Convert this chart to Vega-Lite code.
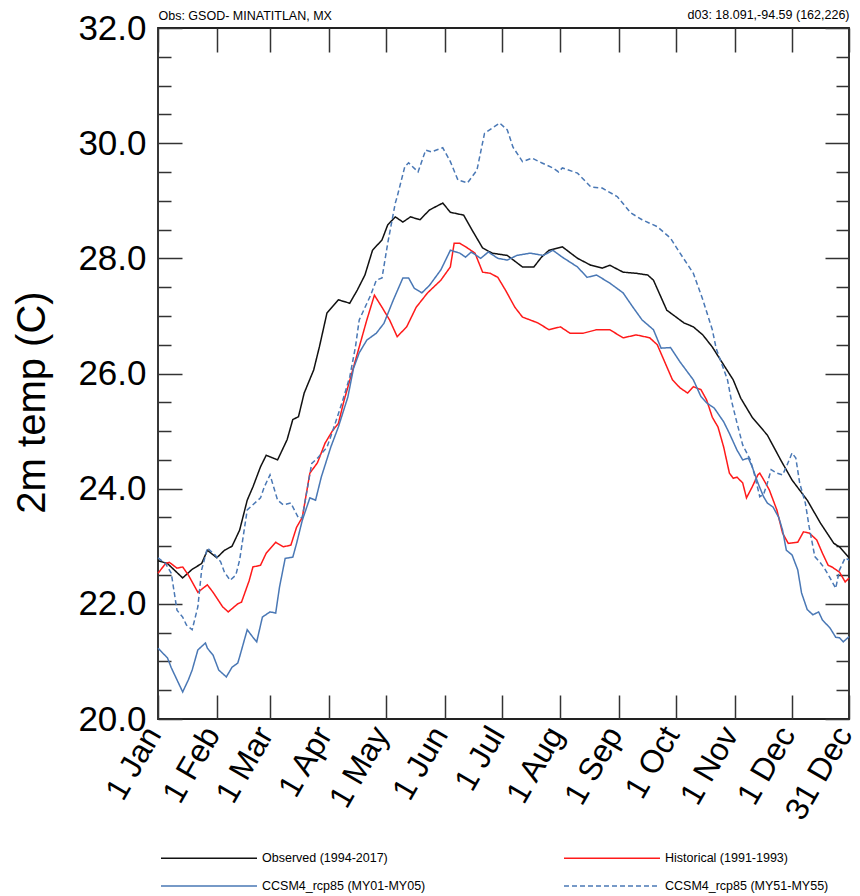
{
  "$schema": "https://vega.github.io/schema/vega-lite/v6.json",
  "width": 691,
  "height": 691,
  "autosize": {"type": "none"},
  "padding": {"left": 158, "top": 28, "right": 11, "bottom": 177},
  "background": "white",
  "config": {
    "view": {"stroke": "#222222", "strokeWidth": 1.8},
    "font": "Liberation Sans"
  },
  "data": {
    "values": [
      {"s":"obs","d":1,"t":22.75},{"s":"obs","d":6,"t":22.7},{"s":"obs","d":14,"t":22.45},{"s":"obs","d":19,"t":22.6},{"s":"obs","d":24,"t":22.7},{"s":"obs","d":27,"t":22.93},{"s":"obs","d":32,"t":22.8},{"s":"obs","d":36,"t":22.93},{"s":"obs","d":40,"t":23.0},{"s":"obs","d":44,"t":23.28},{"s":"obs","d":48,"t":23.8},{"s":"obs","d":51,"t":24.03},{"s":"obs","d":55,"t":24.38},{"s":"obs","d":58,"t":24.58},{"s":"obs","d":64,"t":24.5},{"s":"obs","d":69,"t":24.85},{"s":"obs","d":72,"t":25.2},{"s":"obs","d":75,"t":25.25},{"s":"obs","d":78,"t":25.66},{"s":"obs","d":83,"t":26.06},{"s":"obs","d":86,"t":26.46},{"s":"obs","d":90,"t":27.05},{"s":"obs","d":96,"t":27.28},{"s":"obs","d":102,"t":27.22},{"s":"obs","d":106,"t":27.45},{"s":"obs","d":110,"t":27.71},{"s":"obs","d":114,"t":28.14},{"s":"obs","d":119,"t":28.32},{"s":"obs","d":122,"t":28.58},{"s":"obs","d":126,"t":28.72},{"s":"obs","d":130,"t":28.63},{"s":"obs","d":134,"t":28.72},{"s":"obs","d":139,"t":28.67},{"s":"obs","d":144,"t":28.84},{"s":"obs","d":151,"t":28.96},{"s":"obs","d":155,"t":28.8},{"s":"obs","d":162,"t":28.75},{"s":"obs","d":167,"t":28.46},{"s":"obs","d":172,"t":28.18},{"s":"obs","d":177,"t":28.09},{"s":"obs","d":185,"t":28.05},{"s":"obs","d":193,"t":27.85},{"s":"obs","d":199,"t":27.85},{"s":"obs","d":203,"t":28.02},{"s":"obs","d":207,"t":28.14},{"s":"obs","d":214,"t":28.2},{"s":"obs","d":222,"t":28.0},{"s":"obs","d":229,"t":27.88},{"s":"obs","d":235,"t":27.83},{"s":"obs","d":239,"t":27.88},{"s":"obs","d":246,"t":27.76},{"s":"obs","d":253,"t":27.74},{"s":"obs","d":259,"t":27.71},{"s":"obs","d":262,"t":27.62},{"s":"obs","d":269,"t":27.1},{"s":"obs","d":278,"t":26.88},{"s":"obs","d":283,"t":26.81},{"s":"obs","d":288,"t":26.67},{"s":"obs","d":293,"t":26.46},{"s":"obs","d":298,"t":26.2},{"s":"obs","d":304,"t":25.89},{"s":"obs","d":308,"t":25.57},{"s":"obs","d":314,"t":25.24},{"s":"obs","d":322,"t":24.93},{"s":"obs","d":329,"t":24.5},{"s":"obs","d":335,"t":24.15},{"s":"obs","d":343,"t":23.8},{"s":"obs","d":350,"t":23.4},{"s":"obs","d":357,"t":23.05},{"s":"obs","d":360,"t":22.99},{"s":"obs","d":365,"t":22.8},

      {"s":"hist","d":1,"t":22.53},{"s":"hist","d":5,"t":22.7},{"s":"hist","d":7,"t":22.72},{"s":"hist","d":11,"t":22.62},{"s":"hist","d":14,"t":22.64},{"s":"hist","d":17,"t":22.5},{"s":"hist","d":22,"t":22.2},{"s":"hist","d":27,"t":22.33},{"s":"hist","d":30,"t":22.2},{"s":"hist","d":35,"t":21.95},{"s":"hist","d":38,"t":21.86},{"s":"hist","d":43,"t":22.0},{"s":"hist","d":45,"t":22.03},{"s":"hist","d":49,"t":22.4},{"s":"hist","d":51,"t":22.64},{"s":"hist","d":55,"t":22.67},{"s":"hist","d":58,"t":22.88},{"s":"hist","d":63,"t":23.07},{"s":"hist","d":67,"t":22.99},{"s":"hist","d":71,"t":23.02},{"s":"hist","d":74,"t":23.33},{"s":"hist","d":77,"t":23.5},{"s":"hist","d":81,"t":24.27},{"s":"hist","d":85,"t":24.45},{"s":"hist","d":89,"t":24.79},{"s":"hist","d":93,"t":25.01},{"s":"hist","d":96,"t":25.13},{"s":"hist","d":99,"t":25.53},{"s":"hist","d":104,"t":26.11},{"s":"hist","d":107,"t":26.46},{"s":"hist","d":111,"t":26.93},{"s":"hist","d":115,"t":27.36},{"s":"hist","d":119,"t":27.15},{"s":"hist","d":123,"t":26.93},{"s":"hist","d":127,"t":26.64},{"s":"hist","d":132,"t":26.81},{"s":"hist","d":137,"t":27.15},{"s":"hist","d":143,"t":27.4},{"s":"hist","d":150,"t":27.62},{"s":"hist","d":155,"t":27.85},{"s":"hist","d":157,"t":28.26},{"s":"hist","d":160,"t":28.26},{"s":"hist","d":164,"t":28.18},{"s":"hist","d":168,"t":28.09},{"s":"hist","d":172,"t":27.76},{"s":"hist","d":176,"t":27.74},{"s":"hist","d":180,"t":27.67},{"s":"hist","d":184,"t":27.45},{"s":"hist","d":189,"t":27.15},{"s":"hist","d":193,"t":26.98},{"s":"hist","d":201,"t":26.88},{"s":"hist","d":207,"t":26.76},{"s":"hist","d":213,"t":26.81},{"s":"hist","d":218,"t":26.7},{"s":"hist","d":225,"t":26.7},{"s":"hist","d":232,"t":26.76},{"s":"hist","d":239,"t":26.76},{"s":"hist","d":246,"t":26.62},{"s":"hist","d":253,"t":26.67},{"s":"hist","d":260,"t":26.62},{"s":"hist","d":264,"t":26.5},{"s":"hist","d":272,"t":25.89},{"s":"hist","d":276,"t":25.75},{"s":"hist","d":280,"t":25.66},{"s":"hist","d":283,"t":25.77},{"s":"hist","d":287,"t":25.72},{"s":"hist","d":290,"t":25.54},{"s":"hist","d":293,"t":25.24},{"s":"hist","d":296,"t":25.07},{"s":"hist","d":299,"t":24.72},{"s":"hist","d":302,"t":24.27},{"s":"hist","d":304,"t":24.18},{"s":"hist","d":306,"t":24.2},{"s":"hist","d":309,"t":24.1},{"s":"hist","d":311,"t":23.84},{"s":"hist","d":314,"t":24.03},{"s":"hist","d":317,"t":24.24},{"s":"hist","d":318,"t":24.27},{"s":"hist","d":321,"t":24.1},{"s":"hist","d":323,"t":23.98},{"s":"hist","d":327,"t":23.63},{"s":"hist","d":330,"t":23.23},{"s":"hist","d":333,"t":23.05},{"s":"hist","d":338,"t":23.07},{"s":"hist","d":341,"t":23.25},{"s":"hist","d":344,"t":23.23},{"s":"hist","d":348,"t":23.11},{"s":"hist","d":351,"t":22.88},{"s":"hist","d":354,"t":22.67},{"s":"hist","d":356,"t":22.64},{"s":"hist","d":360,"t":22.55},{"s":"hist","d":363,"t":22.38},{"s":"hist","d":365,"t":22.45},

      {"s":"my01","d":1,"t":21.23},{"s":"my01","d":6,"t":21.06},{"s":"my01","d":8,"t":20.89},{"s":"my01","d":11,"t":20.68},{"s":"my01","d":14,"t":20.47},{"s":"my01","d":17,"t":20.68},{"s":"my01","d":19,"t":20.85},{"s":"my01","d":22,"t":21.2},{"s":"my01","d":26,"t":21.32},{"s":"my01","d":27,"t":21.23},{"s":"my01","d":30,"t":21.11},{"s":"my01","d":33,"t":20.85},{"s":"my01","d":37,"t":20.73},{"s":"my01","d":40,"t":20.9},{"s":"my01","d":43,"t":20.97},{"s":"my01","d":44,"t":21.08},{"s":"my01","d":48,"t":21.55},{"s":"my01","d":51,"t":21.42},{"s":"my01","d":53,"t":21.34},{"s":"my01","d":56,"t":21.77},{"s":"my01","d":60,"t":21.86},{"s":"my01","d":63,"t":21.84},{"s":"my01","d":65,"t":22.29},{"s":"my01","d":68,"t":22.79},{"s":"my01","d":72,"t":22.81},{"s":"my01","d":74,"t":23.05},{"s":"my01","d":77,"t":23.45},{"s":"my01","d":81,"t":23.84},{"s":"my01","d":84,"t":23.8},{"s":"my01","d":87,"t":24.2},{"s":"my01","d":92,"t":24.72},{"s":"my01","d":96,"t":25.07},{"s":"my01","d":101,"t":25.59},{"s":"my01","d":104,"t":26.09},{"s":"my01","d":107,"t":26.36},{"s":"my01","d":111,"t":26.58},{"s":"my01","d":116,"t":26.7},{"s":"my01","d":120,"t":26.87},{"s":"my01","d":125,"t":27.28},{"s":"my01","d":130,"t":27.66},{"s":"my01","d":133,"t":27.66},{"s":"my01","d":136,"t":27.48},{"s":"my01","d":140,"t":27.4},{"s":"my01","d":144,"t":27.53},{"s":"my01","d":150,"t":27.8},{"s":"my01","d":155,"t":28.14},{"s":"my01","d":160,"t":28.09},{"s":"my01","d":163,"t":28.02},{"s":"my01","d":166,"t":28.11},{"s":"my01","d":171,"t":28.0},{"s":"my01","d":175,"t":28.11},{"s":"my01","d":180,"t":28.0},{"s":"my01","d":185,"t":27.97},{"s":"my01","d":190,"t":28.05},{"s":"my01","d":197,"t":28.09},{"s":"my01","d":204,"t":28.05},{"s":"my01","d":209,"t":28.14},{"s":"my01","d":214,"t":28.02},{"s":"my01","d":222,"t":27.85},{"s":"my01","d":227,"t":27.67},{"s":"my01","d":232,"t":27.71},{"s":"my01","d":239,"t":27.57},{"s":"my01","d":246,"t":27.4},{"s":"my01","d":251,"t":27.16},{"s":"my01","d":256,"t":26.93},{"s":"my01","d":262,"t":26.76},{"s":"my01","d":266,"t":26.44},{"s":"my01","d":271,"t":26.45},{"s":"my01","d":276,"t":26.2},{"s":"my01","d":283,"t":25.89},{"s":"my01","d":287,"t":25.6},{"s":"my01","d":290,"t":25.49},{"s":"my01","d":294,"t":25.4},{"s":"my01","d":299,"t":25.16},{"s":"my01","d":302,"t":24.96},{"s":"my01","d":306,"t":24.67},{"s":"my01","d":309,"t":24.5},{"s":"my01","d":312,"t":24.53},{"s":"my01","d":314,"t":24.38},{"s":"my01","d":317,"t":24.1},{"s":"my01","d":320,"t":23.86},{"s":"my01","d":322,"t":23.75},{"s":"my01","d":325,"t":23.68},{"s":"my01","d":328,"t":23.5},{"s":"my01","d":330,"t":23.28},{"s":"my01","d":332,"t":22.93},{"s":"my01","d":335,"t":22.85},{"s":"my01","d":338,"t":22.59},{"s":"my01","d":340,"t":22.19},{"s":"my01","d":343,"t":21.9},{"s":"my01","d":346,"t":21.81},{"s":"my01","d":349,"t":21.86},{"s":"my01","d":351,"t":21.72},{"s":"my01","d":355,"t":21.58},{"s":"my01","d":358,"t":21.42},{"s":"my01","d":360,"t":21.41},{"s":"my01","d":362,"t":21.34},{"s":"my01","d":365,"t":21.43},

      {"s":"my51","d":1,"t":22.8},{"s":"my51","d":5,"t":22.7},{"s":"my51","d":8,"t":22.53},{"s":"my51","d":11,"t":21.89},{"s":"my51","d":14,"t":21.77},{"s":"my51","d":16,"t":21.63},{"s":"my51","d":19,"t":21.55},{"s":"my51","d":22,"t":21.95},{"s":"my51","d":24,"t":22.59},{"s":"my51","d":27,"t":22.97},{"s":"my51","d":31,"t":22.85},{"s":"my51","d":34,"t":22.73},{"s":"my51","d":36,"t":22.55},{"s":"my51","d":39,"t":22.41},{"s":"my51","d":42,"t":22.5},{"s":"my51","d":44,"t":22.76},{"s":"my51","d":48,"t":23.63},{"s":"my51","d":51,"t":23.72},{"s":"my51","d":55,"t":23.84},{"s":"my51","d":57,"t":24.03},{"s":"my51","d":60,"t":24.24},{"s":"my51","d":64,"t":23.8},{"s":"my51","d":67,"t":23.72},{"s":"my51","d":71,"t":23.75},{"s":"my51","d":75,"t":23.49},{"s":"my51","d":77,"t":23.5},{"s":"my51","d":82,"t":24.44},{"s":"my51","d":85,"t":24.53},{"s":"my51","d":90,"t":24.72},{"s":"my51","d":93,"t":25.0},{"s":"my51","d":98,"t":25.5},{"s":"my51","d":102,"t":25.94},{"s":"my51","d":105,"t":26.46},{"s":"my51","d":107,"t":26.93},{"s":"my51","d":113,"t":27.36},{"s":"my51","d":116,"t":27.62},{"s":"my51","d":119,"t":27.66},{"s":"my51","d":122,"t":28.26},{"s":"my51","d":126,"t":28.96},{"s":"my51","d":127,"t":29.07},{"s":"my51","d":131,"t":29.59},{"s":"my51","d":133,"t":29.66},{"s":"my51","d":138,"t":29.5},{"s":"my51","d":142,"t":29.88},{"s":"my51","d":145,"t":29.85},{"s":"my51","d":151,"t":29.92},{"s":"my51","d":155,"t":29.68},{"s":"my51","d":159,"t":29.36},{"s":"my51","d":164,"t":29.31},{"s":"my51","d":169,"t":29.53},{"s":"my51","d":173,"t":30.17},{"s":"my51","d":177,"t":30.26},{"s":"my51","d":181,"t":30.35},{"s":"my51","d":185,"t":30.23},{"s":"my51","d":188,"t":29.93},{"s":"my51","d":193,"t":29.68},{"s":"my51","d":198,"t":29.74},{"s":"my51","d":203,"t":29.66},{"s":"my51","d":209,"t":29.57},{"s":"my51","d":212,"t":29.5},{"s":"my51","d":214,"t":29.57},{"s":"my51","d":222,"t":29.48},{"s":"my51","d":229,"t":29.24},{"s":"my51","d":235,"t":29.22},{"s":"my51","d":243,"t":29.07},{"s":"my51","d":250,"t":28.79},{"s":"my51","d":256,"t":28.67},{"s":"my51","d":264,"t":28.55},{"s":"my51","d":271,"t":28.35},{"s":"my51","d":276,"t":28.09},{"s":"my51","d":283,"t":27.74},{"s":"my51","d":288,"t":27.28},{"s":"my51","d":293,"t":26.76},{"s":"my51","d":295,"t":26.44},{"s":"my51","d":301,"t":25.89},{"s":"my51","d":303,"t":25.54},{"s":"my51","d":306,"t":25.14},{"s":"my51","d":309,"t":24.76},{"s":"my51","d":313,"t":24.5},{"s":"my51","d":315,"t":24.27},{"s":"my51","d":318,"t":23.86},{"s":"my51","d":320,"t":23.9},{"s":"my51","d":322,"t":24.1},{"s":"my51","d":324,"t":24.33},{"s":"my51","d":327,"t":24.27},{"s":"my51","d":330,"t":24.24},{"s":"my51","d":332,"t":24.38},{"s":"my51","d":335,"t":24.62},{"s":"my51","d":337,"t":24.53},{"s":"my51","d":339,"t":24.1},{"s":"my51","d":342,"t":23.75},{"s":"my51","d":344,"t":23.34},{"s":"my51","d":347,"t":22.82},{"s":"my51","d":350,"t":22.71},{"s":"my51","d":352,"t":22.62},{"s":"my51","d":355,"t":22.45},{"s":"my51","d":358,"t":22.27},{"s":"my51","d":360,"t":22.59},{"s":"my51","d":363,"t":22.8},{"s":"my51","d":365,"t":22.76}
    ]
  },
  "layer": [
    {
      "mark": {"type": "line", "strokeWidth": 1.5},
      "encoding": {
        "x": {
          "field": "d", "type": "quantitative",
          "scale": {"domain": [1, 365], "nice": false, "zero": false},
          "axis": {
            "orient": "bottom",
            "values": [1, 32, 60, 91, 121, 152, 182, 213, 244, 274, 305, 335, 365],
            "labelExpr": "timeFormat(datetime(2001, 0, datum.value), '%-d %b')",
            "domain": false, "grid": false,
            "tickSize": -24, "tickWidth": 1.5, "tickColor": "#333333",
            "labelAngle": -60, "labelAlign": "right", "labelBaseline": "middle",
            "labelFontSize": 32, "labelColor": "black", "labelPadding": 34, "labelOffset": -5,
            "labelOverlap": false, "labelFlush": false, "labelBound": false,
            "title": null
          }
        },
        "y": {
          "field": "t", "type": "quantitative",
          "scale": {"domain": [20, 32], "nice": false, "zero": false},
          "axis": {
            "orient": "left",
            "values": [20, 20.5, 21, 21.5, 22, 22.5, 23, 23.5, 24, 24.5, 25, 25.5, 26, 26.5, 27, 27.5, 28, 28.5, 29, 29.5, 30, 30.5, 31, 31.5, 32],
            "labelExpr": "datum.value % 2 === 0 ? format(datum.value, '.1f') : ''",
            "domain": false, "grid": false,
            "tickSize": {"condition": {"test": "datum.value % 2 === 0", "value": -24}, "value": -13},
            "tickWidth": 1.5, "tickColor": "#333333",
            "labelFontSize": 35, "labelColor": "black", "labelPadding": 36,
            "labelOverlap": false, "labelFlush": false, "labelBound": false,
            "title": "2m temp (C)", "titleFontSize": 40, "titleFontWeight": "normal",
            "titleColor": "black", "titleX": -106, "titleY": 374, "titleAngle": -90,
            "titleAlign": "center", "titleBaseline": "bottom"
          }
        },
        "color": {
          "field": "s", "type": "nominal",
          "scale": {"domain": ["obs", "my01", "hist", "my51"], "range": ["#111111", "#4a78b5", "#ff1a1a", "#4a78b5"]},
          "legend": {
            "orient": "none", "legendX": 2, "legendY": 823, "title": null,
            "columns": 2, "columnPadding": 135, "rowPadding": 14,
            "symbolType": "M-1,0H15", "symbolSize": 144, "symbolStrokeWidth": 1.4,
            "labelFontSize": 12.5, "labelOffset": 88, "labelColor": "black", "labelLimit": 400,
            "labelExpr": "datum.label === 'obs' ? 'Observed (1994-2017)' : datum.label === 'hist' ? 'Historical (1991-1993)' : datum.label === 'my01' ? 'CCSM4_rcp85 (MY01-MY05)' : 'CCSM4_rcp85 (MY51-MY55)'"
          }
        },
        "strokeDash": {
          "field": "s", "type": "nominal",
          "scale": {"domain": ["obs", "my01", "hist", "my51"], "range": [[1, 0], [1, 0], [1, 0], [5, 3]]},
          "legend": {
            "orient": "none", "legendX": 2, "legendY": 823, "title": null,
            "columns": 2, "columnPadding": 135, "rowPadding": 14,
            "symbolType": "M-1,0H15", "symbolSize": 144, "symbolStrokeWidth": 1.4,
            "labelFontSize": 12.5, "labelOffset": 88, "labelColor": "black", "labelLimit": 400,
            "labelExpr": "datum.label === 'obs' ? 'Observed (1994-2017)' : datum.label === 'hist' ? 'Historical (1991-1993)' : datum.label === 'my01' ? 'CCSM4_rcp85 (MY01-MY05)' : 'CCSM4_rcp85 (MY51-MY55)'"
          }
        }
      }
    },
    {
      "mark": {"type": "line", "opacity": 0},
      "encoding": {
        "detail": {"field": "s"},
        "x": {
          "field": "d", "type": "quantitative",
          "scale": {"domain": [1, 365], "nice": false, "zero": false},
          "axis": {
            "orient": "top",
            "values": [1, 32, 60, 91, 121, 152, 182, 213, 244, 274, 305, 335, 365],
            "domain": false, "grid": false, "labels": false,
            "tickSize": -24, "tickWidth": 1.5, "tickColor": "#333333",
            "title": "d03: 18.091,-94.59 (162,226)", "titleAnchor": "end", "titleAlign": "right",
            "titleFontSize": 12.5, "titleFontWeight": "normal", "titleColor": "black", "titlePadding": 6
          }
        },
        "y": {
          "field": "t", "type": "quantitative",
          "scale": {"domain": [20, 32], "nice": false, "zero": false},
          "axis": {
            "orient": "right",
            "values": [20, 20.5, 21, 21.5, 22, 22.5, 23, 23.5, 24, 24.5, 25, 25.5, 26, 26.5, 27, 27.5, 28, 28.5, 29, 29.5, 30, 30.5, 31, 31.5, 32],
            "domain": false, "grid": false, "labels": false,
            "tickSize": {"condition": {"test": "datum.value % 2 === 0", "value": -24}, "value": -13},
            "tickWidth": 1.5, "tickColor": "#333333",
            "title": null
          }
        }
      }
    },
    {
      "mark": {"type": "line", "opacity": 0},
      "encoding": {
        "detail": {"field": "s"},
        "x": {
          "field": "d", "type": "quantitative",
          "scale": {"domain": [1, 365], "nice": false, "zero": false},
          "axis": {
            "orient": "top",
            "values": [1, 32, 60, 91, 121, 152, 182, 213, 244, 274, 305, 335, 365],
            "domain": false, "grid": false, "labels": false,
            "tickSize": -24, "tickOpacity": 0,
            "title": "Obs: GSOD- MINATITLAN, MX", "titleAnchor": "start", "titleAlign": "left",
            "titleFontSize": 12.5, "titleFontWeight": "normal", "titleColor": "black", "titlePadding": 6
          }
        },
        "y": {
          "field": "t", "type": "quantitative",
          "scale": {"domain": [20, 32], "nice": false, "zero": false},
          "axis": null
        }
      }
    }
  ],
  "resolve": {"axis": {"x": "independent", "y": "independent"}}
}
